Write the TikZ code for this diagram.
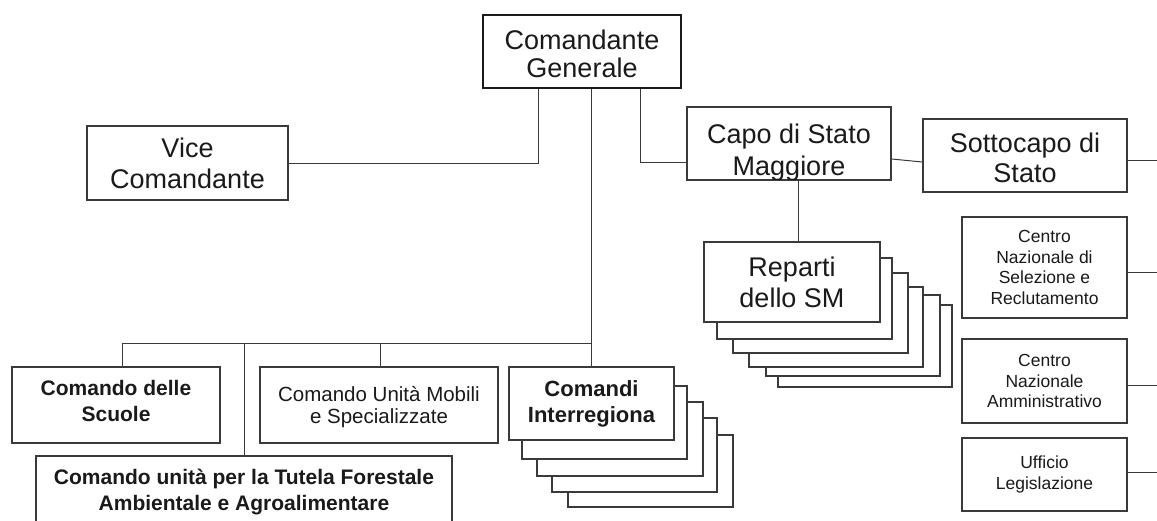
\documentclass[tikz,border=0pt]{standalone}
\usepackage{fontspec}
\setmainfont{Liberation Sans}
\definecolor{linec}{HTML}{3A3A3A}
\definecolor{txt}{HTML}{1A1A1A}
\newcommand\fBig{\fontsize{27}{31}\selectfont}
\newcommand\fCapo{\fontsize{27}{32}\selectfont}
\newcommand\fSotto{\fontsize{27}{30}\selectfont}
\newcommand\fTitle{\fontsize{27}{28}\selectfont}
\newcommand\fSmall{\fontsize{17.5}{20.8}\selectfont}
\newcommand\fMid{\fontsize{20.5}{22.5}\selectfont}
\newcommand\fBold{\fontsize{21}{26.5}\selectfont\bfseries}
\newcommand\fBoldB{\fontsize{22}{26}\selectfont\bfseries}
\begin{document}
\begin{tikzpicture}[x=1pt,y=-1pt,
  box/.style={draw=linec, line width=1.1pt, fill=white, inner sep=0pt, align=center, text=txt},
  stackbox/.style={draw=linec, line width=1.1pt, fill=white},
  conn/.style={draw=linec, line width=1pt},
  lbl/.style={inner sep=0pt, align=center, text=txt}]
\clip (0,0) rectangle (1157,520);
\fill[white] (0,0) rectangle (1157,520);

% top
\node[box, line width=2pt, draw=txt, minimum width=198pt, minimum height=73pt] (cg) at (582,51.5) {};
\node[lbl, font=\fTitle] (cgt) at (582,54) {Comandante\\Generale};
\node[box, minimum width=201pt, minimum height=74pt, font=\fBig] (vice) at (187.5,163) {Vice\\Comandante};
\node[box, minimum width=204pt, minimum height=73pt] (capo) at (789,143.5) {};
\begin{scope}
  \clip ([shift={(0.6,-0.6)}]capo.south west) rectangle ([shift={(-0.6,0.6)}]capo.north east);
  \node[lbl, font=\fCapo] (capot) at (789,153) {Capo di Stato\\Maggiore};
\end{scope}
\draw[draw=linec, line width=1.1pt] (capo.south west) rectangle (capo.north east);
\node[box, minimum width=204pt, minimum height=73pt] (sotto) at (1025,155.5) {};
\node[lbl, font=\fSotto] (sottot) at (1025,157.5) {Sottocapo di\\Stato};

% Reparti stack
\draw[stackbox] (778,305) rectangle (952,387);
\draw[stackbox] (766,295) rectangle (940,376);
\draw[stackbox] (749,287) rectangle (923,367);
\draw[stackbox] (733,273) rectangle (908,353);
\draw[stackbox] (717,258) rectangle (892,339);
\node[box, minimum width=176pt, minimum height=80pt, font=\fBig] (rep) at (792,282) {Reparti\\dello SM};

% right column
\node[box, minimum width=165pt, minimum height=101pt, font=\fSmall] (sel) at (1044.5,267.5) {Centro\\Nazionale di\\Selezione e\\Reclutamento};
\node[box, minimum width=165pt, minimum height=84pt, font=\fSmall] (amm) at (1044.5,381) {Centro\\Nazionale\\Amministrativo};
\node[box, minimum width=165pt, minimum height=73pt, font=\fSmall] (uff) at (1044.5,474.5) {Ufficio\\Legislazione};

% bottom row
\node[box, minimum width=208pt, minimum height=76pt] (scu) at (116,405) {};
\node[lbl, font=\fBold] (scut) at (116,401) {Comando delle\\Scuole};
\node[box, minimum width=238pt, minimum height=76pt] (mob) at (379,405) {};
\node[lbl, font=\fMid] (mobt) at (379,407) {Comando Unità Mobili\\e Specializzate};
\node[box, minimum width=416pt, minimum height=72pt, font=\fBold] (tut) at (244,492) {Comando unità per la Tutela Forestale\\Ambientale e Agroalimentare};

% Comandi stack
\draw[stackbox] (568,435) rectangle (733,507);
\draw[stackbox] (552,418) rectangle (717,492);
\draw[stackbox] (537,402) rectangle (703,476);
\draw[stackbox] (522,386) rectangle (687,459);
\node[box, minimum width=165pt, minimum height=73pt, font=\fBoldB] (ci) at (591.5,403.5) {Comandi\\Interregiona};

% junction coordinates
\coordinate (j1) at (538,163);
\coordinate (j2) at (640,162);
\coordinate (c1) at (891,159);
\coordinate (c2) at (923,162);
\coordinate (c3) at (798,0);
\coordinate (e1) at (1157,160);
\coordinate (e2) at (1157,272);
\coordinate (e3) at (1157,385);
\coordinate (e4) at (1157,472);
\coordinate (hb) at (591,343);
\coordinate (k1) at (122,343);
\coordinate (k2) at (244,343);
\coordinate (k3) at (380,343);

% connectors
\draw[conn] (cg.south -| j1) |- (vice.east);
\draw[conn] (cg.south -| j2) |- (capo.west |- j2);
\draw[conn] (capo.east |- c1) -- (sotto.west |- c2);
\draw[conn] (sotto.east |- e1) -- (e1);
\draw[conn] (capo.south -| c3) -- (rep.north -| c3);
\draw[conn] (sel.east |- e2) -- (e2);
\draw[conn] (amm.east |- e3) -- (e3);
\draw[conn] (uff.east |- e4) -- (e4);
\draw[conn] (cg.south -| hb) -- (ci.north -| hb);
\draw[conn] (k1) -- (hb);
\draw[conn] (k1) -- (scu.north -| k1);
\draw[conn] (k2) -- (tut.north -| k2);
\draw[conn] (k3) -- (mob.north -| k3);
\end{tikzpicture}
\end{document}
